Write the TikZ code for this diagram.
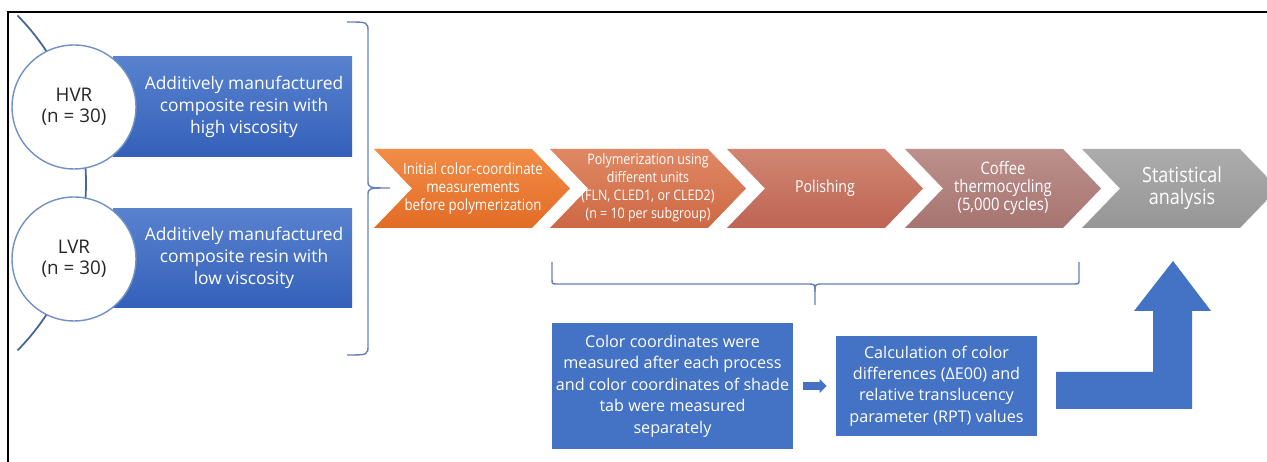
\documentclass[tikz,border=0pt]{standalone}
\usepackage{fontspec}
\setmainfont{Open Sans}
\usepackage{xcolor}
\usetikzlibrary{positioning,arrows.meta,calc}

\definecolor{boxblue}{RGB}{68,114,196}
\definecolor{boxbluetop}{RGB}{88,130,206}
\definecolor{boxbluebot}{RGB}{52,96,186}
\definecolor{arcline}{RGB}{70,100,150}
\definecolor{circline}{RGB}{112,144,200}
\definecolor{braceline}{RGB}{100,128,190}
\definecolor{chAt}{RGB}{242,140,70}
\definecolor{chAb}{RGB}{226,108,38}
\definecolor{chBt}{RGB}{224,136,100}
\definecolor{chBb}{RGB}{206,104,68}
\definecolor{chCt}{RGB}{208,134,114}
\definecolor{chCb}{RGB}{190,100,84}
\definecolor{chDt}{RGB}{188,144,140}
\definecolor{chDb}{RGB}{166,116,112}
\definecolor{chEt}{RGB}{172,172,172}
\definecolor{chEb}{RGB}{150,150,150}

\newcommand{\chevfont}[2]{\fontsize{#1}{#2}\selectfont\addfontfeatures{FakeStretch=0.86}}

\begin{document}
\begin{tikzpicture}[x=0.02cm,y=0.02cm,
    grpcircle/.style={circle,draw=circline,line width=0.8pt,fill=white,minimum size=2.48cm,inner sep=0pt,align=center,text=black!85,font=\fontsize{10.7}{12.2}\selectfont},
    grptxt/.style={align=center,text=white,font=\fontsize{9.9}{12.5}\selectfont},
    steptxt/.style={align=center,text=white,font=\chevfont{8.8}{10.5}},
    bluebox/.style={fill=boxblue,inner sep=0pt,align=center,text=white,font=\fontsize{9.2}{12.2}\selectfont},
    bracket/.style={draw=braceline,line width=0.8pt}]
    \useasboundingbox (0,0) rectangle (1267,462);
    \clip (0,0) rectangle (1267,462);
    \fill[white] (0,0) rectangle (1267,462);
    \draw[line width=0.8pt] (8,0) -- (8,450) -- (1267,450);

    % groups on the left
    \draw[arcline,line width=1pt] (17.5,446.5) arc[start angle=44.5,end angle=-44.5,radius=4.78cm];
    \shade[top color=boxbluetop,bottom color=boxbluebot] (113,305) rectangle (352,405);
    \shade[top color=boxbluetop,bottom color=boxbluebot] (113,154) rectangle (352,253);
    \node[grpcircle] (hvr) at (74,355) {HVR\\(n = 30)};
    \node[grpcircle] (lvr) at (74,203) {LVR\\(n = 30)};
    \node[grptxt] (hvrtxt) at (244,355) {Additively manufactured\\composite resin with\\high viscosity};
    \node[grptxt] (lvrtxt) at (244,204) {Additively manufactured\\composite resin with\\low viscosity};
    \draw[bracket] (347,440) .. controls (368,440) .. (368,430) -- (368,282)
        .. controls (368,274) .. (390,274) .. controls (368,274) .. (368,266)
        -- (368,117) .. controls (368,107) .. (347,107);

    % process chevrons
    \foreach \x/\ct/\cb in {374/chAt/chAb,550/chBt/chBb,727/chCt/chCb,905/chDt/chDb,1082/chEt/chEb}
        \shade[top color=\ct,bottom color=\cb] (\x,313) -- ++(158,0) -- ++(38,-39.5)
            -- ++(-38,-39.5) -- ++(-158,0) -- ++(38,39.5) -- cycle;
    \node[steptxt] (init) at (473,273.5) {Initial color-coordinate\\measurements\\before polymerization};
    \node[steptxt,font=\chevfont{8.25}{10.3}] (polym) at (648,274) {Polymerization using\\different units\\(FLN, CLED1, or CLED2)\\(n = 10 per subgroup)};
    \node[steptxt,font=\chevfont{9.4}{10.5}] (polish) at (825,273.5) {Polishing};
    \node[steptxt,font=\chevfont{9.8}{10.5}] (coffee) at (1003,274) {Coffee\\thermocycling\\(5,000 cycles)};
    \node[steptxt,font=\chevfont{11.9}{12.5}] (stat) at (1182,274) {Statistical\\analysis};

    % brace below the chevrons
    \draw[bracket] (552,200) -- (552,183) .. controls (552,178) .. (557,178) -- (807,178)
        .. controls (815,178) .. (815,170) -- (815,157);
    \draw[bracket] (815,170) .. controls (815,178) .. (823,178) -- (1074,178)
        .. controls (1079,178) .. (1079,183) -- (1079,200);

    % measurement and calculation
    \node[bluebox,minimum width=4.82cm,minimum height=2.52cm] (meas) at (672.5,76)
        {Color coordinates were\\measured after each process\\and color coordinates of shade\\tab were measured\\separately};
    \node[bluebox,minimum width=4.02cm,minimum height=2cm] (calc) at (936.5,76)
        {Calculation of color\\differences (ΔE00) and\\relative translucency\\parameter (RPT) values};
    \draw[boxblue,line width=4pt,-{Triangle[length=0.14cm,width=0.27cm]},shorten <=0.2cm,shorten >=0.18cm] (meas.east) -- (calc.west);
    \fill[boxblue] (1056,53) -- (1192,53) -- (1192,151) -- (1211,151) -- (1173,201)
        -- (1134,151) -- (1153,151) -- (1153,90) -- (1056,90) -- cycle;
\end{tikzpicture}
\end{document}
